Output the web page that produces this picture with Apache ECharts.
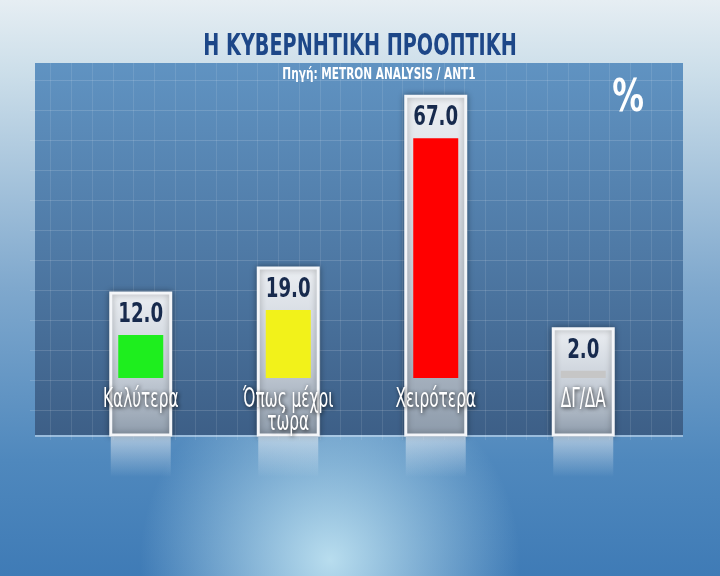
<!DOCTYPE html>
<html>
<head>
<meta charset="utf-8">
<title>Η ΚΥΒΕΡΝΗΤΙΚΗ ΠΡΟΟΠΤΙΚΗ</title>
<script src="https://cdn.jsdelivr.net/npm/echarts@6/dist/echarts.min.js"></script>
<style>
  html, body { margin: 0; padding: 0; }
  #chart { width: 720px; height: 576px; }
</style>
</head>
<body>
<div id="chart"></div>
<script>
const categories = ['Καλύτερα', 'Όπως μέχρι\nτώρα', 'Χειρότερα', 'ΔΓ/ΔΑ']
const values = [12.0, 19.0, 67.0, 2.0]
const barColors = ['#1eee1e', '#f2f21a', '#ff0000', '#c6c6c6']

const titleText = 'Η ΚΥΒΕΡΝΗΤΙΚΗ ΠΡΟΟΠΤΙΚΗ'
const sourceText = 'Πηγή: METRON ANALYSIS / ANT1'

// no condensed face installed, so text gets squeezed with scaleX
const FONT = '"DejaVu Sans", sans-serif'

const chart = echarts.init(document.getElementById('chart'))

// glass card behind each bar, plus its reflection under the panel
function renderCard(params, api) {
  const top = api.coord([api.value(0), api.value(1)])
  const base = api.coord([api.value(0), 0])
  const w = 60
  const x = top[0] - w / 2
  const y0 = top[1] - 42
  const y1 = base[1] + 57
  return {
    type: 'group',
    children: [
      {
        type: 'rect',
        shape: { x: x, y: y0, width: w, height: y1 - y0 },
        style: {
          fill: new echarts.graphic.LinearGradient(0, 0, 0, 1, [
            { offset: 0, color: '#eceff3' },
            { offset: 0.6, color: '#c2cad4' },
            { offset: 1, color: '#8d9bab' }
          ]),
          stroke: '#f4f6f9',
          lineWidth: 3,
          shadowBlur: 6,
          shadowColor: 'rgba(0,0,0,0.35)'
        }
      },
      {
        type: 'rect',
        shape: { x: x, y: y1 + 2, width: w, height: 40 },
        style: {
          fill: new echarts.graphic.LinearGradient(0, 0, 0, 1, [
            { offset: 0, color: 'rgba(235,240,245,0.55)' },
            { offset: 1, color: 'rgba(235,240,245,0)' }
          ])
        }
      }
    ]
  }
}

// value on top of the bar and category name under it
function renderTexts(params, api) {
  const top = api.coord([api.value(0), api.value(1)])
  const base = api.coord([api.value(0), 0])
  return {
    type: 'group',
    children: [
      {
        type: 'text',
        x: top[0],
        y: top[1] - 20,
        scaleX: 0.7,
        style: {
          text: api.value(1).toFixed(1),
          align: 'center',
          verticalAlign: 'middle',
          fill: '#172a4d',
          font: 'bold 26px ' + FONT
        }
      },
      {
        type: 'text',
        x: base[0],
        y: base[1] + 11,
        scaleX: 0.59,
        style: {
          text: categories[params.dataIndex],
          align: 'center',
          verticalAlign: 'top',
          fill: '#ffffff',
          font: '500 26px ' + FONT,
          lineHeight: 23,
          textShadowColor: 'rgba(0,0,0,0.85)',
          textShadowBlur: 4,
          textShadowOffsetX: 1,
          textShadowOffsetY: 1
        }
      }
    ]
  }
}

const option = {
  backgroundColor: new echarts.graphic.LinearGradient(0, 0, 0, 1, [
    { offset: 0, color: '#e6eef3' },
    { offset: 0.12, color: '#cddfea' },
    { offset: 0.5, color: '#7fa8cd' },
    { offset: 0.8, color: '#4f88bd' },
    { offset: 1, color: '#3f7bb6' }
  ]),
  textStyle: { fontFamily: FONT },
  graphic: [
    {
      type: 'circle',
      z: -10,
      shape: { cx: 330, cy: 560, r: 190 },
      style: {
        fill: new echarts.graphic.RadialGradient(0.5, 0.5, 0.5, [
          { offset: 0, color: 'rgba(205,238,248,0.85)' },
          { offset: 1, color: 'rgba(205,238,248,0)' }
        ])
      }
    },
    {
      type: 'rect',
      z: -9,
      shape: { x: 35, y: 63, width: 648, height: 372 },
      style: {
        fill: new echarts.graphic.LinearGradient(0, 0, 0, 1, [
          { offset: 0, color: '#6093c2' },
          { offset: 0.5, color: '#4f7aa6' },
          { offset: 1, color: '#3d5f87' }
        ])
      }
    },
    {
      type: 'line',
      z: -8,
      shape: { x1: 35, y1: 436, x2: 683, y2: 436 },
      style: { stroke: 'rgba(200,220,240,0.6)', lineWidth: 2 }
    },
    {
      type: 'text',
      z: 10,
      x: 360,
      y: 47,
      scaleX: 0.64,
      style: {
        text: titleText,
        align: 'center',
        verticalAlign: 'middle',
        fill: '#1d4788',
        font: 'bold 30px ' + FONT
      }
    },
    {
      type: 'text',
      z: 10,
      x: 379,
      y: 75,
      scaleX: 0.66,
      style: {
        text: sourceText,
        align: 'center',
        verticalAlign: 'middle',
        fill: '#ffffff',
        font: 'bold 16px ' + FONT
      }
    },
    {
      type: 'text',
      z: 10,
      x: 628,
      y: 100,
      scaleX: 0.72,
      style: {
        text: '%',
        align: 'center',
        verticalAlign: 'middle',
        fill: '#ffffff',
        font: 'bold 44px ' + FONT
      }
    }
  ],
  grid: [
    { left: 67, right: 63, top: 20, bottom: 198 },
    { left: 30, right: 37, top: 63, bottom: 136 }
  ],
  xAxis: [
    {
      type: 'category',
      data: categories,
      gridIndex: 0,
      axisLine: { show: false },
      axisTick: { show: false },
      axisLabel: { show: false }
    },
    {
      type: 'value',
      gridIndex: 1,
      min: 0,
      max: 31.55,
      interval: 1,
      axisLine: { show: false },
      axisTick: { show: false },
      axisLabel: { show: false },
      splitLine: { show: true, showMinLine: false, showMaxLine: false, lineStyle: { color: 'rgba(255,255,255,0.1)' } }
    }
  ],
  yAxis: [
    { type: 'value', gridIndex: 0, min: 0, max: 100, show: false },
    {
      type: 'value',
      gridIndex: 1,
      min: 0,
      max: 12.567,
      interval: 1,
      axisLine: { show: false },
      axisTick: { show: false },
      axisLabel: { show: false },
      splitLine: { show: true, showMinLine: false, showMaxLine: false, lineStyle: { color: 'rgba(255,255,255,0.14)' } }
    }
  ],
  series: [
    {
      type: 'custom',
      xAxisIndex: 0,
      yAxisIndex: 0,
      z: 1,
      silent: true,
      renderItem: renderCard,
      data: values.map((v, i) => [i, v])
    },
    {
      type: 'bar',
      xAxisIndex: 0,
      yAxisIndex: 0,
      z: 3,
      barWidth: 45,
      data: values.map((v, i) => ({ value: v, itemStyle: { color: barColors[i] } }))
    },
    {
      type: 'custom',
      xAxisIndex: 0,
      yAxisIndex: 0,
      z: 5,
      silent: true,
      renderItem: renderTexts,
      data: values.map((v, i) => [i, v])
    }
  ]
}

chart.setOption(option)
</script>
</body>
</html>
